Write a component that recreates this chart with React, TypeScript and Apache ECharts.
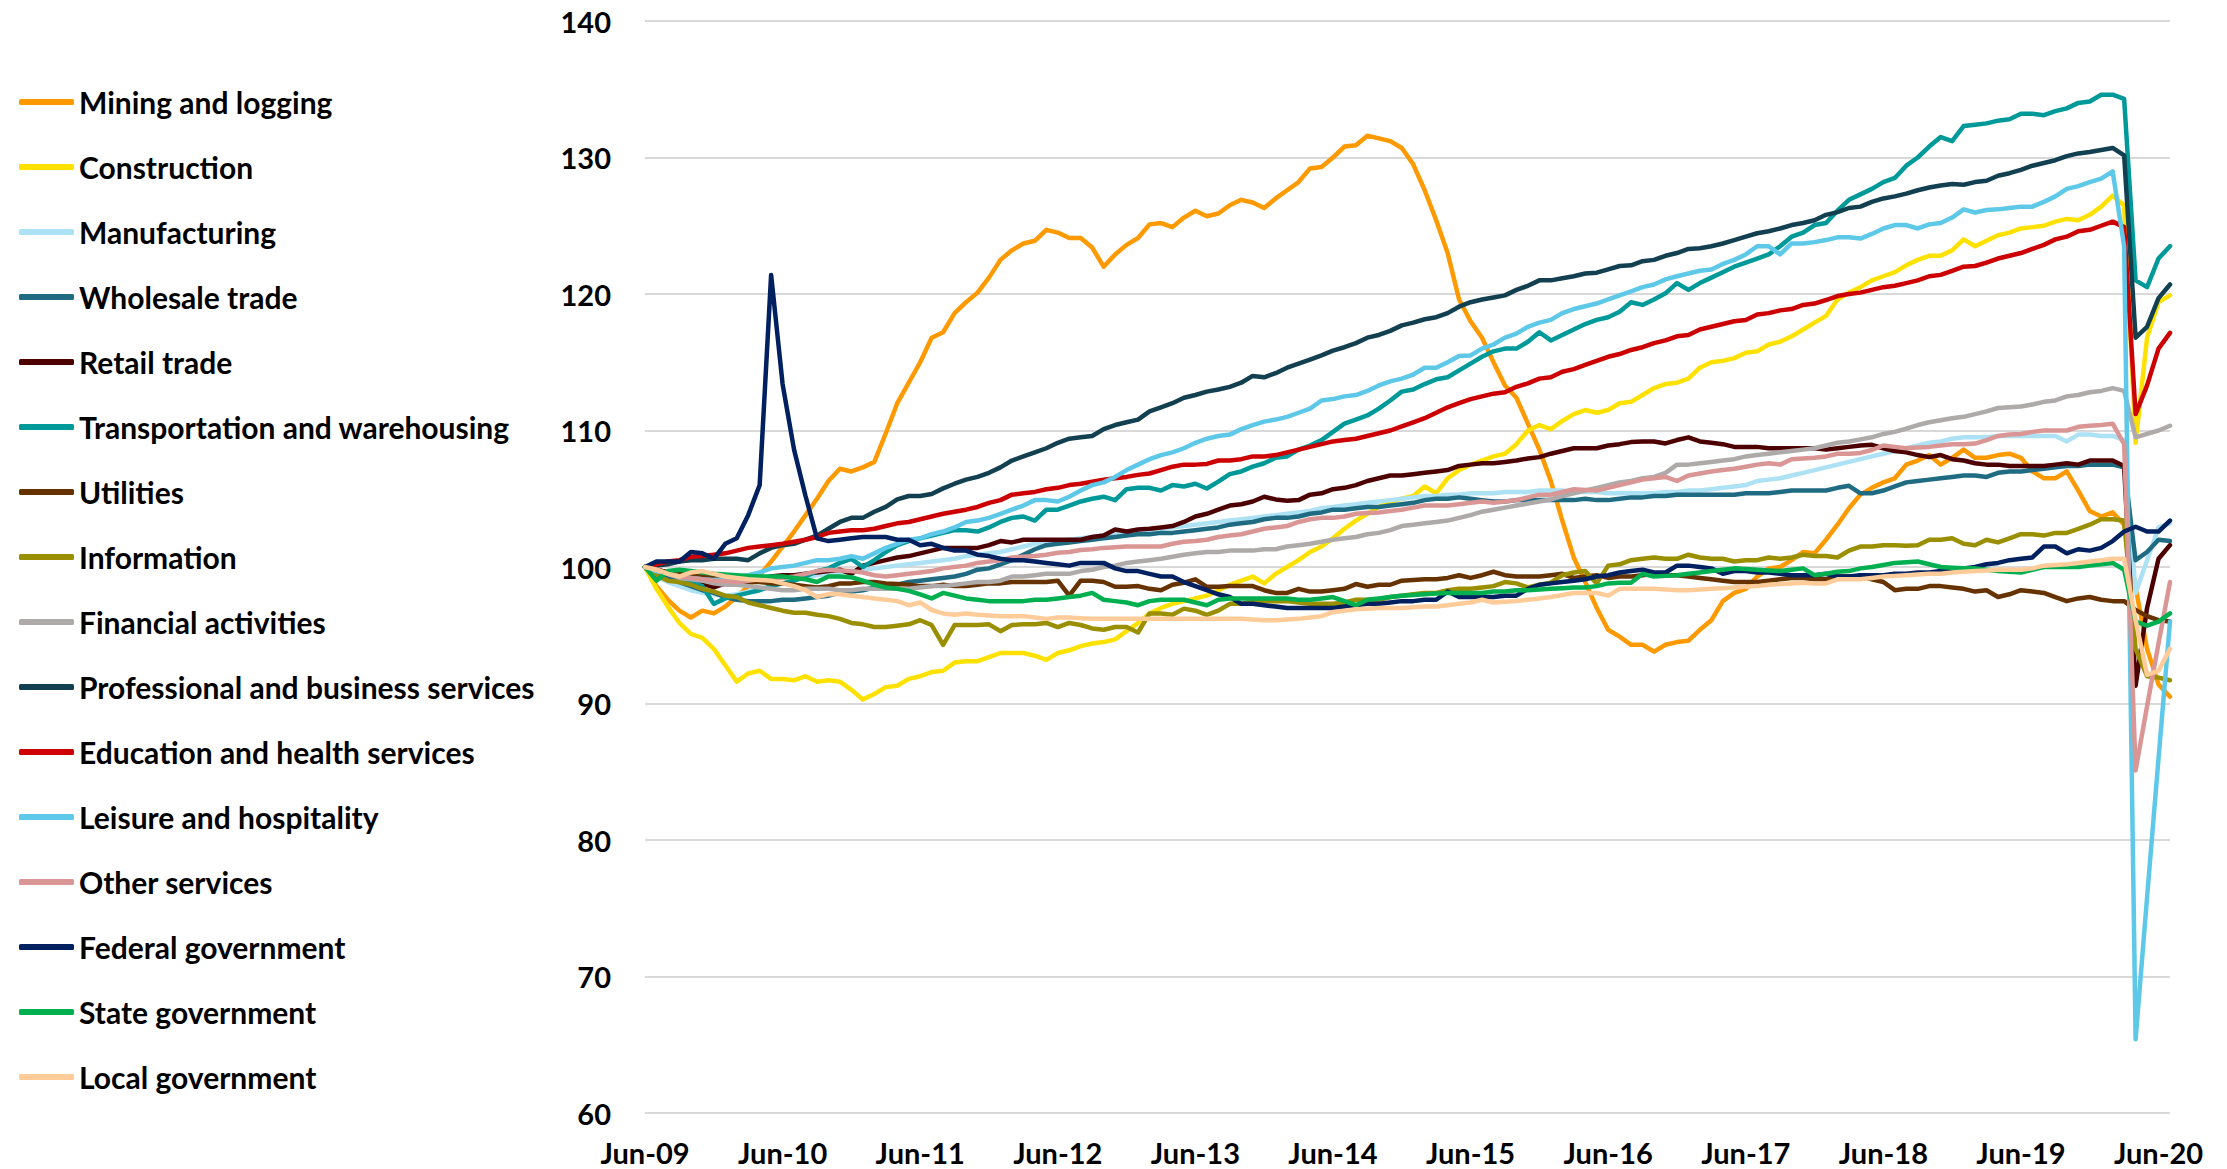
import React, { useEffect, useRef } from "react";
import * as echarts from "echarts";

// Monthly categories, Jun-09 .. Jul-20 (134 months)
const monthNames = ["Jan", "Feb", "Mar", "Apr", "May", "Jun", "Jul", "Aug", "Sep", "Oct", "Nov", "Dec"];
const firstMonth = 5; // June
const firstYear = 2009;
const monthCount = 134;
const categories: string[] = [];
for (let k = 0; k < monthCount; k++) {
  const m = (firstMonth + k) % 12;
  const y = firstYear + Math.floor((firstMonth + k) / 12);
  categories.push(monthNames[m] + "-" + String(y % 100).padStart(2, "0"));
}

const yTicks = { min: 60, max: 140, interval: 10 };

const seriesNames = [
  "Mining and logging",
  "Construction",
  "Manufacturing",
  "Wholesale trade",
  "Retail trade",
  "Transportation and warehousing",
  "Utilities",
  "Information",
  "Financial activities",
  "Professional and business services",
  "Education and health services",
  "Leisure and hospitality",
  "Other services",
  "Federal government",
  "State government",
  "Local government",
];

const seriesColors = [
  "#FF9900", "#FFE100", "#ADE1F4", "#1F6B82", "#4D0000", "#009999", "#663300", "#998F00",
  "#AEAAAA", "#134050", "#CC0000", "#5EC8E9", "#DA9694", "#002060", "#00B050", "#FFCC99",
];

const miningLogging = [
  100, 98.6, 97.6, 96.8, 96.3, 96.8, 96.6, 97.1, 97.8, 98.6,
  99.4, 100.4, 101.5, 102.6, 103.8, 105.0, 106.3, 107.2, 107.0, 107.3,
  107.7, 109.8, 112.0, 113.5, 115.0, 116.8, 117.2, 118.6, 119.4, 120.1,
  121.2, 122.5, 123.2, 123.7, 123.9, 124.7, 124.5, 124.1, 124.1, 123.4,
  122.0, 122.9, 123.6, 124.1, 125.1, 125.2, 124.9, 125.6, 126.1, 125.7,
  125.9, 126.5, 126.9, 126.7, 126.3, 127.0, 127.6, 128.2, 129.2, 129.3,
  130.0, 130.8, 130.9, 131.6, 131.4, 131.2, 130.7, 129.5, 127.6, 125.4,
  123.0, 119.6, 118.0, 116.8, 115.0, 113.3, 112.4, 110.5, 108.6, 106.3,
  103.4, 100.7, 98.9, 97.0, 95.4, 94.9, 94.3, 94.3, 93.8, 94.3,
  94.5, 94.6, 95.4, 96.1, 97.5, 98.1, 98.4, 99.3, 99.9, 100.0,
  100.5, 101.1, 101.0, 102.0, 103.1, 104.3, 105.3, 105.8, 106.2, 106.5,
  107.5, 107.8, 108.2, 107.5, 108.0, 108.6, 108.0, 108.0, 108.2, 108.3,
  108.0, 107.0, 106.5, 106.5, 107.0, 105.6, 104.1, 103.7, 104.0, 103.1,
  98.5, 94.0, 91.4, 90.5,
];

const construction = [
  100, 98.4, 97.1, 95.9, 95.1, 94.8, 94.0, 92.8, 91.6, 92.2,
  92.4, 91.8, 91.8, 91.7, 92.0, 91.6, 91.7, 91.6, 91.0, 90.3,
  90.7, 91.2, 91.3, 91.8, 92.0, 92.3, 92.4, 93.0, 93.1, 93.1,
  93.4, 93.7, 93.7, 93.7, 93.5, 93.2, 93.7, 93.9, 94.2, 94.4,
  94.5, 94.7, 95.3, 95.9, 96.6, 97.0, 97.3, 97.5, 97.7, 97.9,
  98.3, 98.7, 99.0, 99.3, 98.8, 99.5, 100.0, 100.5, 101.1, 101.5,
  102.1, 102.8, 103.4, 103.9, 104.4, 104.8, 105.0, 105.2, 105.9, 105.4,
  106.5, 107.1, 107.5, 107.8, 108.1, 108.3, 109.0, 110.0, 110.4, 110.1,
  110.7, 111.2, 111.5, 111.3, 111.5, 112.0, 112.1, 112.6, 113.1, 113.4,
  113.5, 113.8, 114.6, 115.0, 115.1, 115.3, 115.7, 115.8, 116.3, 116.5,
  116.9, 117.4, 117.9, 118.4, 119.6, 120.1, 120.5, 121.0, 121.3, 121.6,
  122.1, 122.5, 122.8, 122.8, 123.2, 124.0, 123.5, 123.9, 124.3, 124.5,
  124.8, 124.9, 125.0, 125.3, 125.5, 125.4, 125.8, 126.4, 127.2, 126.5,
  109.1, 116.8, 119.4, 119.9,
];

const manufacturing = [
  100, 99.3, 98.9, 98.6, 98.3, 98.1, 98.0, 97.9, 98.0, 98.2,
  98.4, 98.6, 98.8, 99.0, 99.2, 99.4, 99.5, 99.6, 99.7, 99.8,
  99.9, 100.0, 100.1, 100.2, 100.3, 100.4, 100.5, 100.6, 100.8, 100.9,
  101.0, 101.1, 101.3, 101.5, 101.7, 101.8, 101.9, 102.0, 102.1, 102.2,
  102.3, 102.4, 102.5, 102.6, 102.7, 102.8, 102.9, 103.0, 103.1, 103.2,
  103.3, 103.4, 103.5, 103.6, 103.7, 103.8, 103.9, 104.0, 104.1, 104.3,
  104.4, 104.5, 104.6, 104.7, 104.8, 104.9, 105.0, 105.1, 105.2, 105.2,
  105.3, 105.3, 105.4, 105.4, 105.4, 105.5, 105.5, 105.5, 105.6, 105.6,
  105.6, 105.5, 105.5, 105.5, 105.4, 105.4, 105.4, 105.4, 105.4, 105.5,
  105.5, 105.6, 105.6, 105.7, 105.8, 105.9, 106.0, 106.3, 106.4, 106.5,
  106.7, 106.9, 107.1, 107.3, 107.5, 107.7, 107.9, 108.1, 108.3, 108.5,
  108.7, 108.9, 109.1, 109.2, 109.4, 109.5, 109.5, 109.5, 109.6, 109.6,
  109.6, 109.6, 109.6, 109.6, 109.2, 109.7, 109.7, 109.6, 109.6, 109.3,
  98.1, 100.5, 102.9, 103.2,
];

const wholesaleTrade = [
  100, 99.6, 99.2, 98.9, 98.6, 98.3, 98.1, 97.8, 97.6, 97.5,
  97.5, 97.5, 97.6, 97.6, 97.7, 97.8, 97.9, 98.1, 98.2, 98.3,
  98.5, 98.6, 98.7, 98.9, 99.0, 99.1, 99.2, 99.3, 99.5, 99.8,
  99.9, 100.2, 100.5, 100.9, 101.3, 101.6, 101.7, 101.8, 101.9, 102.0,
  102.1, 102.2, 102.3, 102.4, 102.4, 102.5, 102.5, 102.6, 102.7, 102.8,
  102.9, 103.1, 103.2, 103.3, 103.5, 103.6, 103.6, 103.7, 103.9, 104.0,
  104.2, 104.2, 104.3, 104.4, 104.4, 104.5, 104.6, 104.7, 104.9, 105.0,
  105.0, 105.1, 105.0, 104.9, 104.8, 104.8, 104.9, 104.9, 104.9, 104.9,
  104.9, 104.9, 105.0, 104.9, 104.9, 105.0, 105.1, 105.1, 105.2, 105.2,
  105.3, 105.3, 105.3, 105.3, 105.3, 105.3, 105.4, 105.4, 105.4, 105.5,
  105.6, 105.6, 105.6, 105.6, 105.8, 105.95, 105.4, 105.4, 105.6, 105.9,
  106.2, 106.3, 106.4, 106.5, 106.6, 106.7, 106.7, 106.6, 106.9, 107.0,
  107.0, 107.1, 107.2, 107.3, 107.4, 107.4, 107.5, 107.5, 107.5, 107.3,
  100.5, 101.1, 102.0, 101.9,
];

const retailTrade = [
  100, 99.8, 99.6, 99.3, 99.0, 98.8, 98.5, 98.8, 99.0, 99.2,
  99.2, 99.3, 99.4, 99.4, 99.5, 99.6, 99.7, 99.8, 99.5, 100.1,
  100.3, 100.5, 100.7, 100.8, 101.0, 101.2, 101.4, 101.4, 101.4, 101.4,
  101.6, 101.9, 101.8, 102.0, 102.0, 102.0, 102.0, 102.0, 102.0, 102.2,
  102.3, 102.75, 102.6, 102.75, 102.8, 102.9, 103.0, 103.3, 103.7, 103.9,
  104.2, 104.5, 104.6, 104.8, 105.15, 104.95, 104.85, 104.9, 105.3, 105.4,
  105.7, 105.8, 106.0, 106.3, 106.5, 106.7, 106.7, 106.8, 106.9, 107.0,
  107.1, 107.4, 107.5, 107.6, 107.6, 107.7, 107.8, 107.95, 108.05, 108.3,
  108.5, 108.7, 108.7, 108.7, 108.9, 109.0, 109.15, 109.2, 109.2, 109.05,
  109.3, 109.5, 109.2, 109.1, 109.0, 108.8, 108.8, 108.8, 108.7, 108.7,
  108.7, 108.7, 108.7, 108.6, 108.7, 108.8, 108.9, 108.95, 108.7, 108.5,
  108.4, 108.2, 108.05, 108.2, 107.9, 107.8, 107.6, 107.5, 107.5, 107.4,
  107.4, 107.4, 107.4, 107.5, 107.6, 107.5, 107.8, 107.8, 107.8, 107.4,
  91.3, 97.0, 100.6, 101.6,
];

const transportationWarehousing = [
  100, 99.8, 99.5, 99.3, 98.9, 98.6, 97.3, 97.7, 97.9, 98.1,
  98.3, 98.6, 98.8, 99.0, 99.3, 99.7, 99.9, 100.3, 100.6, 100.0,
  100.5, 101.1, 101.6, 101.9, 102.1, 102.3, 102.5, 102.7, 102.7, 102.6,
  102.9, 103.3, 103.6, 103.7, 103.4, 104.2, 104.2, 104.5, 104.8, 105.0,
  105.15, 104.9, 105.7, 105.8, 105.8, 105.6, 106.0, 105.9, 106.1, 105.75,
  106.25, 106.8, 107.0, 107.35, 107.6, 108.0, 108.1, 108.6, 108.9, 109.3,
  109.9, 110.5, 110.8, 111.1, 111.6, 112.2, 112.85, 113.0, 113.4, 113.75,
  113.9, 114.4, 114.9, 115.4, 115.8, 116.0, 116.0, 116.5, 117.2, 116.6,
  117.0, 117.4, 117.8, 118.1, 118.3, 118.7, 119.4, 119.2, 119.6, 120.05,
  120.8, 120.3, 120.8, 121.2, 121.6, 122.0, 122.3, 122.6, 122.9, 123.5,
  124.2, 124.5, 125.05, 125.2, 126.1, 126.9, 127.3, 127.7, 128.2, 128.5,
  129.4, 130.0, 130.8, 131.5, 131.2, 132.3, 132.4, 132.5, 132.7, 132.8,
  133.2, 133.2, 133.1, 133.4, 133.6, 134.0, 134.1, 134.6, 134.6, 134.3,
  121.0, 120.5, 122.6, 123.5,
];

const utilities = [
  100, 99.8, 99.6, 99.5, 99.4, 99.3, 99.2, 99.1, 99.0, 98.9,
  98.9, 98.8, 98.8, 98.7, 98.6, 98.5, 98.6, 98.8, 98.8, 98.9,
  98.9, 98.8, 98.75, 98.7, 98.6, 98.6, 98.7, 98.6, 98.6, 98.7,
  98.8, 98.8, 98.9, 98.9, 98.9, 98.9, 99.0, 97.9, 99.0, 99.0,
  98.9, 98.55, 98.55, 98.6, 98.4, 98.3, 98.7, 98.85, 99.1, 98.55,
  98.55, 98.6, 98.6, 98.6, 98.3, 98.1, 98.1, 98.4, 98.2, 98.2,
  98.3, 98.4, 98.75, 98.55, 98.7, 98.7, 99.0, 99.05, 99.1, 99.1,
  99.2, 99.4, 99.2, 99.4, 99.65, 99.4, 99.3, 99.3, 99.3, 99.4,
  99.5, 99.2, 99.3, 99.4, 99.2, 99.3, 99.3, 99.4, 99.5, 99.4,
  99.4, 99.3, 99.2, 99.1, 99.0, 98.9, 98.9, 98.9, 99.0, 99.1,
  99.2, 99.2, 99.1, 99.1, 99.3, 99.3, 99.3, 99.1, 98.9, 98.3,
  98.4, 98.4, 98.6, 98.6, 98.5, 98.4, 98.2, 98.3, 97.8, 98.0,
  98.3, 98.2, 98.1, 97.8, 97.5, 97.7, 97.8, 97.6, 97.5, 97.5,
  96.85, 96.4, 96.1, 96.0,
];

const information = [
  100, 99.4, 99.0, 98.9, 98.7, 98.4, 98.2, 97.9, 97.8, 97.4,
  97.2, 97.0, 96.8, 96.65, 96.65, 96.5, 96.4, 96.2, 95.9, 95.8,
  95.6, 95.6, 95.7, 95.8, 96.1, 95.75, 94.3, 95.75, 95.75, 95.75,
  95.8, 95.3, 95.75, 95.8, 95.8, 95.9, 95.6, 95.9, 95.75, 95.5,
  95.4, 95.6, 95.6, 95.2, 96.6, 96.6, 96.5, 96.95, 96.8, 96.5,
  96.8, 97.3, 97.3, 97.5, 97.5, 97.5, 97.5, 97.4, 97.3, 97.3,
  97.3, 97.4, 97.6, 97.6, 97.6, 97.8, 97.9, 98.0, 98.1, 98.1,
  98.3, 98.4, 98.4, 98.5, 98.6, 98.9, 98.8, 98.5, 98.7, 98.85,
  99.4, 99.6, 99.7, 98.8, 100.1, 100.2, 100.5, 100.6, 100.7, 100.6,
  100.6, 100.9, 100.7, 100.6, 100.6, 100.4, 100.5, 100.5, 100.7, 100.6,
  100.7, 100.9, 100.8, 100.8, 100.7, 101.2, 101.5, 101.5, 101.6, 101.6,
  101.56, 101.6, 102.0, 102.0, 102.1, 101.7, 101.6, 102.0, 101.8, 102.1,
  102.4, 102.4, 102.3, 102.5, 102.5, 102.8, 103.1, 103.5, 103.5, 103.4,
  94.0, 92.0, 91.9, 91.7,
];

const financialActivities = [
  100, 99.7, 99.5, 99.2, 99.1, 99.0, 98.8, 98.7, 98.7, 98.6,
  98.5, 98.4, 98.3, 98.3, 98.4, 98.4, 98.4, 98.3, 98.3, 98.4,
  98.4, 98.4, 98.4, 98.4, 98.5, 98.6, 98.6, 98.7, 98.8, 98.9,
  98.9, 99.0, 99.3, 99.3, 99.4, 99.5, 99.5, 99.5, 99.7, 99.8,
  100.0, 100.1, 100.3, 100.4, 100.5, 100.6, 100.75, 100.9, 101.0, 101.1,
  101.1, 101.2, 101.2, 101.2, 101.3, 101.3, 101.5, 101.6, 101.7, 101.85,
  102.0, 102.1, 102.2, 102.4, 102.5, 102.7, 103.0, 103.1, 103.2, 103.3,
  103.4, 103.6, 103.8, 104.05, 104.2, 104.35, 104.5, 104.65, 104.8, 104.95,
  105.2, 105.4, 105.6, 105.8, 106.0, 106.2, 106.3, 106.5, 106.6, 106.9,
  107.5, 107.5, 107.6, 107.7, 107.8, 107.9, 108.1, 108.2, 108.3, 108.4,
  108.5, 108.6, 108.7, 108.9, 109.1, 109.2, 109.35, 109.5, 109.75, 109.9,
  110.14, 110.4, 110.6, 110.75, 110.9, 111.0, 111.2, 111.4, 111.65, 111.7,
  111.76, 111.9, 112.1, 112.2, 112.5, 112.6, 112.8, 112.9, 113.1, 112.9,
  109.5, 109.75, 110.0, 110.35,
];

const professionalBusiness = [
  100, 100.1, 100.2, 100.4, 100.5, 100.5, 100.6, 100.6, 100.6, 100.5,
  101.0, 101.4, 101.6, 101.7, 102.0, 102.3, 102.8, 103.3, 103.6, 103.6,
  104.05, 104.4, 104.95, 105.2, 105.2, 105.35, 105.76, 106.1, 106.4, 106.6,
  106.9, 107.3, 107.8, 108.1, 108.4, 108.7, 109.1, 109.4, 109.5, 109.6,
  110.1, 110.4, 110.6, 110.8, 111.4, 111.7, 112.0, 112.4, 112.6, 112.85,
  113.0, 113.2, 113.5, 114.0, 113.9, 114.2, 114.6, 114.9, 115.2, 115.5,
  115.85, 116.1, 116.4, 116.8, 117.0, 117.3, 117.7, 117.9, 118.15, 118.3,
  118.6, 119.07, 119.4, 119.6, 119.75, 119.9, 120.3, 120.6, 121.0, 121.0,
  121.15, 121.3, 121.5, 121.56, 121.8, 122.05, 122.1, 122.4, 122.5, 122.8,
  123.0, 123.3, 123.35, 123.5, 123.7, 123.95, 124.2, 124.45, 124.6, 124.8,
  125.05, 125.2, 125.4, 125.8, 126.0, 126.3, 126.4, 126.75, 127.0, 127.15,
  127.35, 127.6, 127.8, 127.95, 128.06, 128.0, 128.2, 128.3, 128.66, 128.85,
  129.1, 129.4, 129.6, 129.8, 130.1, 130.3, 130.4, 130.55, 130.7, 130.15,
  116.8, 117.6, 119.7, 120.7,
];

const educationHealth = [
  100, 100.2, 100.4, 100.5, 100.75, 100.8, 100.9, 101.0, 101.2, 101.4,
  101.5, 101.6, 101.7, 101.85, 102.0, 102.2, 102.5, 102.6, 102.7, 102.7,
  102.8, 103.0, 103.2, 103.3, 103.5, 103.7, 103.9, 104.05, 104.2, 104.4,
  104.7, 104.9, 105.3, 105.4, 105.5, 105.7, 105.8, 106.0, 106.1, 106.25,
  106.4, 106.5, 106.6, 106.75, 106.85, 107.1, 107.35, 107.5, 107.5, 107.55,
  107.8, 107.8, 107.9, 108.1, 108.1, 108.2, 108.4, 108.6, 108.8, 109.0,
  109.2, 109.3, 109.4, 109.6, 109.8, 110.0, 110.3, 110.6, 110.9, 111.3,
  111.7, 112.0, 112.3, 112.5, 112.7, 112.8, 113.2, 113.45, 113.8, 113.9,
  114.3, 114.5, 114.8, 115.1, 115.4, 115.6, 115.9, 116.1, 116.4, 116.6,
  116.9, 117.0, 117.4, 117.6, 117.8, 118.0, 118.1, 118.5, 118.6, 118.8,
  118.9, 119.2, 119.3, 119.56, 119.85, 120.0, 120.1, 120.3, 120.5, 120.6,
  120.8, 121.0, 121.3, 121.4, 121.7, 122.0, 122.05, 122.3, 122.6, 122.8,
  123.0, 123.3, 123.6, 124.0, 124.2, 124.6, 124.7, 125.0, 125.3, 124.9,
  111.2, 113.3, 116.0, 117.15,
];

const leisureHospitality = [
  100, 99.7, 99.5, 99.3, 99.2, 99.1, 99.05, 99.1, 99.3, 99.4,
  99.6, 99.9, 100.0, 100.1, 100.3, 100.5, 100.5, 100.6, 100.8, 100.6,
  101.0, 101.4, 101.7, 102.0, 102.1, 102.4, 102.6, 102.9, 103.3, 103.4,
  103.6, 103.9, 104.2, 104.5, 104.9, 104.9, 104.8, 105.15, 105.6, 106.0,
  106.2, 106.6, 107.1, 107.5, 107.9, 108.2, 108.4, 108.7, 109.1, 109.4,
  109.6, 109.7, 110.1, 110.4, 110.65, 110.8, 111.0, 111.3, 111.6, 112.2,
  112.3, 112.5, 112.6, 112.9, 113.3, 113.6, 113.8, 114.1, 114.6, 114.6,
  115.0, 115.45, 115.5, 116.0, 116.3, 116.8, 117.1, 117.6, 117.9, 118.1,
  118.6, 118.9, 119.1, 119.3, 119.6, 119.9, 120.2, 120.5, 120.7, 121.07,
  121.3, 121.5, 121.7, 121.8, 122.2, 122.5, 122.9, 123.5, 123.5, 122.9,
  123.7, 123.7, 123.8, 123.95, 124.15, 124.15, 124.06, 124.4, 124.8, 125.05,
  125.05, 124.8, 125.1, 125.2, 125.6, 126.2, 125.97, 126.15, 126.2, 126.3,
  126.4, 126.4, 126.75, 127.15, 127.7, 127.9, 128.2, 128.45, 128.98, 123.5,
  65.4, 75.8, 86.0, 96.0,
];

const otherServices = [
  100, 99.8, 99.5, 99.3, 99.2, 99.1, 99.0, 98.95, 98.9, 99.0,
  99.1, 99.2, 99.2, 99.3, 99.5, 99.7, 99.8, 99.75, 99.7, 99.6,
  99.4, 99.3, 99.4, 99.5, 99.6, 99.7, 99.9, 100.0, 100.1, 100.3,
  100.4, 100.5, 100.7, 100.75, 100.8, 100.9, 101.05, 101.1, 101.25, 101.3,
  101.4, 101.45, 101.5, 101.5, 101.5, 101.5, 101.7, 101.85, 101.9, 102.0,
  102.2, 102.3, 102.4, 102.6, 102.8, 102.9, 103.0, 103.3, 103.5, 103.6,
  103.6, 103.7, 103.9, 103.95, 104.0, 104.1, 104.2, 104.35, 104.5, 104.5,
  104.5, 104.6, 104.7, 104.8, 104.7, 104.8, 104.9, 105.1, 105.3, 105.3,
  105.5, 105.7, 105.65, 105.6, 105.8, 106.0, 106.2, 106.4, 106.5, 106.6,
  106.3, 106.7, 106.85, 107.0, 107.1, 107.2, 107.35, 107.5, 107.6, 107.5,
  107.9, 107.95, 108.0, 108.1, 108.3, 108.3, 108.36, 108.57, 108.9, 108.8,
  108.7, 108.75, 108.8, 108.9, 109.0, 109.0, 109.04, 109.3, 109.6, 109.7,
  109.75, 109.9, 110.0, 110.0, 110.0, 110.27, 110.35, 110.4, 110.5, 109.0,
  85.1, 89.8, 94.4, 98.9,
];

const federalGovernment = [
  100, 100.4, 100.4, 100.4, 101.1, 101.0, 100.6, 101.7, 102.1, 103.8,
  106.0, 121.4, 113.4, 108.6, 105.2, 102.1, 101.9, 102.0, 102.1, 102.2,
  102.2, 102.2, 102.0, 102.0, 101.6, 101.7, 101.4, 101.2, 101.2, 100.9,
  100.8, 100.6, 100.5, 100.5, 100.4, 100.3, 100.2, 100.1, 100.3, 100.3,
  100.3, 99.9, 99.7, 99.7, 99.5, 99.3, 99.3, 98.9, 98.6, 98.3,
  98.0, 97.8, 97.3, 97.3, 97.2, 97.1, 97.0, 97.0, 97.0, 97.0,
  97.0, 97.1, 97.2, 97.3, 97.3, 97.4, 97.5, 97.5, 97.6, 97.6,
  98.2, 97.8, 97.8, 97.8, 97.8, 97.9, 97.9, 98.4, 98.7, 98.8,
  98.9, 99.0, 99.1, 99.3, 99.4, 99.6, 99.7, 99.8, 99.6, 99.6,
  100.1, 100.1, 100.0, 99.9, 99.5, 99.7, 99.7, 99.6, 99.6, 99.5,
  99.4, 99.4, 99.4, 99.5, 99.3, 99.3, 99.4, 99.4, 99.4, 99.5,
  99.5, 99.6, 99.6, 99.7, 99.8, 99.9, 100.0, 100.2, 100.3, 100.5,
  100.6, 100.7, 101.5, 101.5, 101.0, 101.3, 101.2, 101.4, 101.9, 102.6,
  102.95, 102.6, 102.6, 103.4,
];

const stateGovernment = [
  100, 99.0, 99.7, 99.8, 99.7, 99.6, 99.5, 99.45, 99.4, 99.35,
  99.3, 99.3, 99.3, 99.2, 99.1, 98.9, 99.3, 99.3, 99.25, 99.0,
  98.7, 98.5, 98.4, 98.25, 98.0, 97.7, 98.1, 97.9, 97.7, 97.6,
  97.5, 97.5, 97.5, 97.5, 97.6, 97.6, 97.7, 97.8, 97.9, 98.1,
  97.6, 97.5, 97.4, 97.2, 97.5, 97.6, 97.6, 97.6, 97.4, 97.2,
  97.6, 97.7, 97.7, 97.7, 97.7, 97.7, 97.7, 97.6, 97.6, 97.7,
  97.8, 97.5, 97.2, 97.6, 97.7, 97.8, 97.9, 97.95, 98.0, 98.05,
  98.1, 98.1, 98.1, 98.1, 98.2, 98.2, 98.3, 98.3, 98.35, 98.4,
  98.45, 98.5, 98.5, 98.6, 98.8, 98.85, 98.85, 99.5, 99.3, 99.35,
  99.4, 99.5, 99.6, 99.7, 99.8, 99.9, 99.85, 99.8, 99.75, 99.7,
  99.8, 99.9, 99.4, 99.5, 99.65, 99.7, 99.9, 100.0, 100.15, 100.3,
  100.35, 100.4, 100.2, 100.0, 99.95, 99.9, 99.9, 99.8, 99.7, 99.65,
  99.6, 99.8, 100.0, 100.0, 100.0, 100.0, 100.1, 100.2, 100.3, 99.8,
  96.0, 95.7, 96.0, 96.6,
];

const localGovernment = [
  100, 99.8, 99.5, 99.3, 99.6, 99.7, 99.5, 99.3, 99.2, 99.1,
  99.05, 99.0, 98.8, 98.6, 98.3, 97.8, 98.0, 98.0, 97.9, 97.8,
  97.7, 97.6, 97.5, 97.2, 97.4, 96.85, 96.6, 96.5, 96.6, 96.5,
  96.45, 96.4, 96.4, 96.4, 96.3, 96.2, 96.3, 96.3, 96.25, 96.2,
  96.2, 96.2, 96.2, 96.2, 96.2, 96.2, 96.2, 96.2, 96.2, 96.2,
  96.2, 96.2, 96.2, 96.15, 96.1, 96.1, 96.15, 96.2, 96.3, 96.4,
  96.7, 96.8, 96.9, 96.95, 97.0, 97.0, 97.0, 97.05, 97.1, 97.1,
  97.2, 97.3, 97.4, 97.6, 97.4, 97.45, 97.5, 97.6, 97.7, 97.8,
  97.95, 98.1, 98.1, 98.1, 97.9, 98.4, 98.4, 98.4, 98.4, 98.35,
  98.3, 98.3, 98.35, 98.4, 98.45, 98.5, 98.55, 98.6, 98.7, 98.75,
  98.8, 98.85, 98.8, 98.8, 99.1, 99.1, 99.1, 99.2, 99.3, 99.35,
  99.4, 99.45, 99.5, 99.5, 99.6, 99.65, 99.7, 99.75, 99.8, 99.8,
  99.8, 99.9, 100.1, 100.15, 100.2, 100.3, 100.4, 100.5, 100.6, 100.6,
  96.1, 92.1, 92.4, 94.0,
];

const seriesData = [
  miningLogging, construction, manufacturing, wholesaleTrade, retailTrade,
  transportationWarehousing, utilities, information, financialActivities,
  professionalBusiness, educationHealth, leisureHospitality, otherServices,
  federalGovernment, stateGovernment, localGovernment,
];

const FONT = "Lato, 'Liberation Sans', sans-serif";

export default function App() {
  const ref = useRef<HTMLDivElement>(null);

  useEffect(() => {
    document.body.style.margin = "0";
    if (!ref.current) return;
    const chart = echarts.init(ref.current, undefined, { renderer: "svg" });
    const option = {
      animation: false,
      backgroundColor: "#ffffff",
      grid: { left: 645, right: 57, top: 21, bottom: 56, containLabel: false },
      legend: {
        orient: "vertical",
        left: 14,
        top: 82,
        itemGap: 35,
        itemWidth: 55,
        itemHeight: 6,
        icon: "roundRect",
        selectedMode: false,
        textStyle: { fontFamily: FONT, fontWeight: "bold", fontSize: 30, color: "#000", lineHeight: 30 },
        data: seriesNames,
      },
      xAxis: {
        type: "category",
        boundaryGap: false,
        data: categories,
        axisLine: { show: false },
        axisTick: { show: false },
        splitLine: { show: false },
        axisLabel: {
          interval: 11,
          margin: 25,
          fontFamily: FONT,
          fontWeight: "bold",
          fontSize: 29,
          color: "#000",
        },
      },
      yAxis: {
        type: "value",
        min: yTicks.min,
        max: yTicks.max,
        interval: yTicks.interval,
        axisLine: { show: false },
        axisTick: { show: false },
        splitLine: { lineStyle: { color: "#D9D9D9", width: 2 } },
        axisLabel: {
          margin: 34,
          fontFamily: FONT,
          fontWeight: "bold",
          fontSize: 29,
          color: "#000",
        },
      },
      series: seriesNames.map((name, k) => ({
        name,
        type: "line",
        data: seriesData[k],
        symbol: "none",
        showSymbol: false,
        lineStyle: { width: 4.5, color: seriesColors[k], cap: "round", join: "round" },
        itemStyle: { color: seriesColors[k] },
        emphasis: { disabled: true },
        silent: true,
      })),
    };
    chart.setOption(option as any);
    return () => chart.dispose();
  }, []);

  return (
    <div
      ref={ref}
      style={{ position: "fixed", left: 0, top: 0, width: 2227, height: 1169, background: "#fff" }}
    />
  );
}
